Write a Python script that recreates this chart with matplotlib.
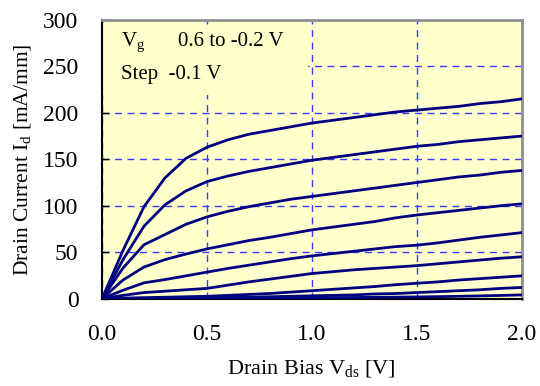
import matplotlib.pyplot as plt
from matplotlib.patches import Rectangle

plt.rcParams['font.family'] = ['Liberation Serif', 'DejaVu Serif']
plt.rcParams['mathtext.fontset'] = 'custom'
plt.rcParams['mathtext.rm'] = 'Liberation Serif'
plt.rcParams['mathtext.it'] = 'Liberation Serif'

# Drain bias points [V]
vds = [0.0, 0.1, 0.2, 0.3, 0.4, 0.5, 0.6, 0.7, 0.8, 0.9, 1.0,
       1.1, 1.2, 1.3, 1.4, 1.5, 1.6, 1.7, 1.8, 1.9, 2.0]

# Drain current [mA/mm] for Vg = 0.6 ... -0.2 V
id_06 = [0, 52, 99, 130, 151, 163, 171, 177, 181, 185, 189,
         192, 195, 198, 201, 203, 205, 207, 210, 212, 215]
id_05 = [0, 42, 78, 101, 116, 126, 132, 137, 141, 145, 149,
         152, 155, 158, 161, 164, 166, 169, 171, 173, 175]
id_04 = [0, 33, 58, 69, 80, 88, 94, 99, 103, 107, 110,
         113, 116, 119, 122, 125, 128, 131, 133, 136, 138]
id_03 = [0, 20, 34, 42, 48, 53.5, 58, 62.5, 66, 70, 74,
         77, 80, 83, 87, 90, 92.5, 95, 97.5, 100, 102]
id_02 = [0, 9, 17, 20.5, 24.5, 28.5, 32.5, 36, 39.5, 43, 46,
         48.5, 51, 53.5, 56, 57.5, 60, 63, 66, 68.5, 71]
id_01 = [0, 3.5, 6.5, 8, 9.5, 11, 14.5, 18, 21, 24, 27,
         29, 31, 32.5, 34, 35.5, 37.5, 39.5, 41.5, 43.5, 45]
id_00 = [0, 0.5, 1, 1.5, 2, 2.5, 3.5, 4.5, 5.5, 7, 8.5,
         10, 11.5, 13, 15, 16.5, 18, 20, 21.5, 23, 24.5]
id_m01 = [0, 0.2, 0.4, 0.6, 0.8, 1, 1.3, 1.6, 2, 2.5, 3,
          3.5, 4, 5, 5.5, 6.5, 7.5, 8.5, 9.5, 11, 12]
id_m02 = [0, 0.1, 0.1, 0.2, 0.2, 0.3, 0.4, 0.5, 0.6, 0.7, 0.8,
          1.0, 1.2, 1.4, 1.6, 1.8, 2.1, 2.5, 2.9, 3.4, 4]

curves = [id_06, id_05, id_04, id_03, id_02, id_01, id_00, id_m01, id_m02]

xticks = [0.0, 0.5, 1.0, 1.5, 2.0]
yticks = [0, 50, 100, 150, 200, 250, 300]

bg = '#FFFFCC'

fig = plt.figure(figsize=(5.4, 3.86), dpi=100)
ax = fig.add_axes([0.189, 0.2264, 0.777, 0.7218])
ax.set_facecolor(bg)

for c in curves:
    ax.plot(vds, c, color='#000080', lw=2, zorder=3)

ax.set_xlim(0, 2.0)
ax.set_ylim(0, 300)
ax.set_xticks(xticks)
ax.set_xticklabels(['%.1f' % v for v in xticks])
ax.set_yticks(yticks)

ax.set_axisbelow(True)
ax.grid(True, color='#3a3aFF', lw=1.0, linestyle=(0, (5, 4)))

# cover grid behind the annotation
ax.add_patch(Rectangle((0, 0.731), 0.49, 0.232, transform=ax.transAxes,
                       facecolor=bg, edgecolor='none', zorder=1))

ax.text(0.045, 0.905, 'V$_\\mathregular{g}$', transform=ax.transAxes,
        fontsize=15, va='baseline', zorder=4)
ax.text(0.18, 0.905, '0.6 to -0.2 V', transform=ax.transAxes,
        fontsize=15, va='baseline', zorder=4)
ax.text(0.045, 0.787, 'Step  -0.1 V', transform=ax.transAxes,
        fontsize=15, va='baseline', zorder=4)

ax.tick_params(axis='y', direction='in', length=5, width=1, pad=17,
               labelsize=17, colors='black')
ax.tick_params(axis='x', direction='in', length=0, pad=18, labelsize=17)

for s in ['left', 'bottom']:
    ax.spines[s].set_color('black')
    ax.spines[s].set_linewidth(1.5)
for s in ['top', 'right']:
    ax.spines[s].set_color('#909090')
    ax.spines[s].set_linewidth(2)

ax.set_xlabel('Drain Bias V$_\\mathregular{ds}$ [V]', fontsize=16, labelpad=10)
ax.set_ylabel('Drain Current I$_\\mathregular{d}$ [mA/mm]', fontsize=15.5, labelpad=7)

plt.savefig('out.png', dpi=100)
plt.close()
